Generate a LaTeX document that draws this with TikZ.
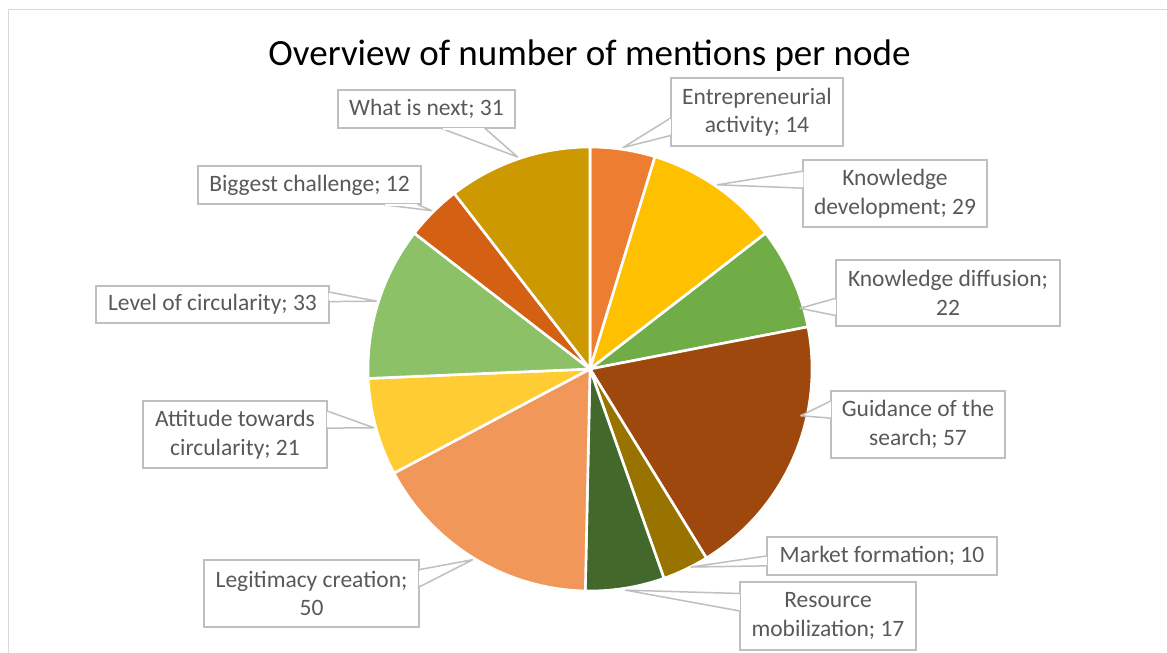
\documentclass[tikz,border=0pt]{standalone}
\usepackage{fontspec}
\setmainfont{Carlito}
\usetikzlibrary{calc}
\definecolor{cEA}{HTML}{ED7D31}
\definecolor{cKD}{HTML}{FFC000}
\definecolor{cKF}{HTML}{70AD47}
\definecolor{cGS}{HTML}{9E480E}
\definecolor{cMF}{HTML}{997300}
\definecolor{cRM}{HTML}{43682B}
\definecolor{cLC}{HTML}{F1975A}
\definecolor{cAT}{HTML}{FFCD33}
\definecolor{cLV}{HTML}{8CC168}
\definecolor{cBC}{HTML}{D36013}
\definecolor{cWN}{HTML}{CC9A00}
\definecolor{boxgray}{HTML}{BFBFBF}
\definecolor{labelgray}{HTML}{595959}
\definecolor{framegray}{HTML}{D9D9D9}
\newcommand{\ptrto}[3]{%
  \filldraw[ptr] #1 -- #2 -- #3;
  \draw[erase] #1 -- #3;}
\begin{document}
\begin{tikzpicture}[x=1pt,y=1pt,
  lbl/.style={draw=boxgray, line width=1.5pt, fill=white, text=labelgray,
    font=\fontsize{23.5}{28.5}\selectfont, align=center, inner sep=0pt},
  ptr/.style={draw=boxgray, line width=1.5pt, fill=white, line join=round},
  erase/.style={draw=white, line width=2.4pt, shorten <=1.2pt, shorten >=1.2pt},
  slice/.style={draw=white, line width=2.6pt, line join=round}]
\useasboundingbox (0,0) rectangle (1167,-653);
\fill[white] (0,0) rectangle (1167,-653);
\draw[framegray, line width=1.5pt] (8.5,-653) -- (8.5,-9.5) -- (1167,-9.5);
\node[anchor=base, font=\fontsize{37}{44}\selectfont] (title) at (589.5,-65) {Overview of number of mentions per node};

\begin{scope}[shift={(590,-369)}]
  \coordinate (ctr) at (0,0);
  \filldraw[slice, fill=cEA] (ctr) -- (90:222) arc[start angle=90, end angle=72.973, radius=222] -- cycle;
  \filldraw[slice, fill=cKD] (ctr) -- (72.973:222) arc[start angle=72.973, end angle=37.703, radius=222] -- cycle;
  \filldraw[slice, fill=cKF] (ctr) -- (37.703:222) arc[start angle=37.703, end angle=10.946, radius=222] -- cycle;
  \filldraw[slice, fill=cGS] (ctr) -- (10.946:222) arc[start angle=10.946, end angle=-58.378, radius=222] -- cycle;
  \filldraw[slice, fill=cMF] (ctr) -- (-58.378:222) arc[start angle=-58.378, end angle=-70.541, radius=222] -- cycle;
  \filldraw[slice, fill=cRM] (ctr) -- (-70.541:222) arc[start angle=-70.541, end angle=-91.216, radius=222] -- cycle;
  \filldraw[slice, fill=cLC] (ctr) -- (-91.216:222) arc[start angle=-91.216, end angle=-152.027, radius=222] -- cycle;
  \filldraw[slice, fill=cAT] (ctr) -- (-152.027:222) arc[start angle=-152.027, end angle=-177.568, radius=222] -- cycle;
  \filldraw[slice, fill=cLV] (ctr) -- (-177.568:222) arc[start angle=-177.568, end angle=-217.703, radius=222] -- cycle;
  \filldraw[slice, fill=cBC] (ctr) -- (-217.703:222) arc[start angle=-217.703, end angle=-232.297, radius=222] -- cycle;
  \filldraw[slice, fill=cWN] (ctr) -- (-232.297:222) arc[start angle=-232.297, end angle=-270, radius=222] -- cycle;
  \coordinate (tEA) at (81.486:224);
  \coordinate (tKD) at (55.338:224);
  \coordinate (tRM) at (-80.878:224);
  \coordinate (tLC) at (-121.622:224);
  \coordinate (tAT) at (-164.797:224);
  \coordinate (tLV) at (-197.635:224);
  \coordinate (tBC) at (-225.0:224);
  \coordinate (tWN) at (-251.149:224);
\end{scope}
\coordinate (tKF) at (800,-308.3);
\coordinate (tGS) at (800.7,-415.7);
\coordinate (tMF) at (691,-567);

\node[lbl, minimum width=177, minimum height=38] (wn) at (426.5,-109) {What is next; 31};
\node[lbl, minimum width=172, minimum height=68] (ea) at (757,-112) {Entrepreneurial\\activity; 14};
\node[lbl, minimum width=184, minimum height=67] (kd) at (895,-193.5) {Knowledge\\development; 29};
\node[lbl, minimum width=224, minimum height=66] (kf) at (948,-293) {Knowledge diffusion;\\22};
\node[lbl, minimum width=174, minimum height=67] (gs) at (918,-424.5) {Guidance of the\\search; 57};
\node[lbl, minimum width=230, minimum height=38] (mf) at (882,-556) {Market formation; 10};
\node[lbl, minimum width=176, minimum height=68] (rm) at (828,-616) {Resource\\mobilization; 17};
\node[lbl, minimum width=215, minimum height=67] (lc) at (311.5,-593.5) {Legitimacy creation;\\50};
\node[lbl, minimum width=184, minimum height=67] (at) at (235,-434.5) {Attitude towards\\circularity; 21};
\node[lbl, minimum width=233, minimum height=37] (lv) at (212.5,-304.5) {Level of circularity; 33};
\node[lbl, minimum width=223, minimum height=38] (bc) at (309.5,-185) {Biggest challenge; 12};

\ptrto{($(wn.south west)!0.588!(wn.south east)$)}{(tWN)}{($(wn.south west)!0.83!(wn.south east)$)}
\ptrto{($(ea.north west)!0.59!(ea.south west)$)}{(tEA)}{($(ea.north west)!0.84!(ea.south west)$)}
\ptrto{($(kd.north west)!0.175!(kd.south west)$)}{(tKD)}{($(kd.north west)!0.422!(kd.south west)$)}
\ptrto{($(kf.north west)!0.58!(kf.south west)$)}{(tKF)}{($(kf.north west)!0.833!(kf.south west)$)}
\ptrto{($(gs.north west)!0.16!(gs.south west)$)}{(tGS)}{($(gs.north west)!0.407!(gs.south west)$)}
\ptrto{($(mf.north west)!0.5!(mf.south west)$)}{(tMF)}{($(mf.north west)!0.75!(mf.south west)$)}
\ptrto{($(rm.north west)!0.176!(rm.south west)$)}{(tRM)}{($(rm.north west)!0.426!(rm.south west)$)}
\ptrto{($(lc.north east)!0.15!(lc.south east)$)}{(tLC)}{($(lc.north east)!0.40!(lc.south east)$)}
\ptrto{($(at.north east)!0.16!(at.south east)$)}{(tAT)}{($(at.north east)!0.407!(at.south east)$)}
\ptrto{($(lv.north east)!0.18!(lv.south east)$)}{(tLV)}{($(lv.north east)!0.425!(lv.south east)$)}
\ptrto{($(bc.south west)!0.83!(bc.south east)$)}{(tBC)}{($(bc.south west)!0.985!(bc.south east)$)}
\end{tikzpicture}
\end{document}
